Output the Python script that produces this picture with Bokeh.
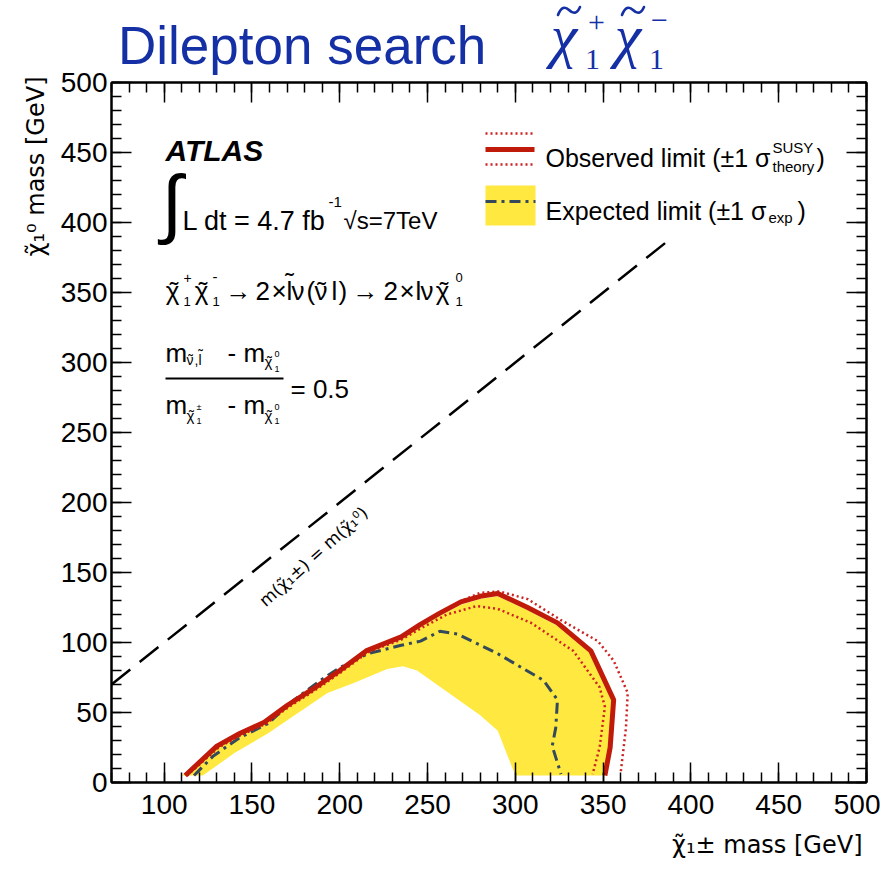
import math
from bokeh.plotting import figure
from bokeh.layouts import column
from bokeh.models import (Range1d, LinearAxis, SingleIntervalTicker, Label, Title, Div,
                          CustomJSTickFormatter)
from bokeh.embed import file_html
from bokeh.resources import INLINE

# ---------------- data ----------------
# observed limit (thick red)
obs_x = [112, 130, 143, 157, 170, 185, 200, 215, 235, 246, 257, 269, 280, 290, 307, 324, 343, 356, 354, 351]
obs_y = [5, 26, 35, 43, 55, 67, 80, 94, 104, 113, 121, 129, 133, 135, 125, 114, 94, 59, 25, 5]
# observed +1 sigma theory (outer dotted)
obs_up_x = [113, 131, 144, 158, 171, 186, 201, 216, 236, 247, 258, 270, 280, 291, 307, 326, 347, 356, 364, 363, 360]
obs_up_y = [5, 27, 36, 44, 56, 68, 81, 95, 105, 114, 122, 130, 135.5, 136.5, 131, 116, 101, 87, 64, 39, 7]
# observed -1 sigma theory (inner dotted)
obs_dn_x = [113, 131, 144, 158, 171, 186, 201, 216, 235, 246, 261, 278, 290, 309, 333, 348, 351, 348, 344]
obs_dn_y = [5, 25, 34, 42, 54, 66, 79, 93, 102, 110, 120, 126, 124, 114, 94, 68, 54, 25, 6]
# expected limit (dash-dot)
exp_x = [117, 128, 143, 159, 174, 189, 200, 216, 235, 246, 257, 267, 290, 316, 324, 323, 321, 326]
exp_y = [5, 19, 32, 42, 59, 73, 82, 92, 98, 101, 108, 106, 92, 73, 59, 39, 26, 6]
# expected +-1 sigma band (upper edge left->right, then lower edge right->left)
band_x = [110, 130, 143, 157, 170, 185, 200, 215, 235, 246, 257, 269, 280, 290, 307, 324, 343, 355, 353, 351,
          300, 290, 280, 244, 236, 227, 208, 193, 159, 140, 122]
band_y = [5, 26, 34, 42, 54, 66, 79, 92, 102, 111, 119, 127, 131, 133, 123, 112, 92, 58, 25, 5,
          5, 37, 48, 80, 83, 81, 71, 64, 35, 21, 5]
# kinematic boundary m(chargino) = m(neutralino)
diag_x = [70, 390]
diag_y = [70, 390]

x_ticks_interval = 50
y_ticks_interval = 50

# ---------------- geometry (page px) ----------------
X0, X1, Y0, Y1 = 70, 500, 0, 500
W = 880
DIV_H = 60                       # title strip
FIG_H = 810
FL, FT, FW, FH = 111, 82, 755, 700   # frame position on the page
SX = FW / (X1 - X0)
SY = FH / (Y1 - Y0)


def dx(px):
    return X0 + (px - FL) / SX


def dy(py):
    return Y0 + (FT + FH - py) / SY


SANS = "Liberation Sans"
SERIF = "Liberation Serif"
RED = "#C01B0A"
RED_D = "#CC2222"
SLATE = "#34495A"
YELLOW = "#FFE840"
BLUE = "#1530A4"

p = figure(width=W, height=FIG_H, x_range=Range1d(X0, X1), y_range=Range1d(Y0, Y1),
           output_backend="svg", toolbar_location=None,
           x_axis_type=None, y_axis_type=None,
           min_border_left=FL, min_border_top=FT - DIV_H,
           min_border_right=W - FL - FW, min_border_bottom=FIG_H - (FT - DIV_H) - FH,
           margin=0)
p.outline_line_color = "black"
p.outline_line_width = 2
p.background_fill_color = "white"
p.border_fill_color = None


def make_axis(interval, labels):
    ax = LinearAxis(ticker=SingleIntervalTicker(interval=interval, num_minor_ticks=5))
    ax.major_tick_in = 20
    ax.major_tick_out = 0
    ax.minor_tick_in = 10
    ax.minor_tick_out = 0
    ax.axis_line_width = 2
    ax.major_tick_line_width = 1.5
    ax.minor_tick_line_width = 1.5
    ax.major_label_text_font = SANS
    ax.major_label_text_font_size = "28px"
    ax.major_label_text_color = "black"
    if not labels:
        ax.formatter = CustomJSTickFormatter(code="return ''")
        ax.major_label_standoff = 0
        ax.major_label_text_font_size = "1px"
    return ax


xb = make_axis(x_ticks_interval, True)
xb.major_label_standoff = 12
yl = make_axis(y_ticks_interval, True)
yl.major_label_standoff = 4
p.add_layout(xb, "below")
p.add_layout(yl, "left")
p.add_layout(make_axis(x_ticks_interval, False), "above")
p.add_layout(make_axis(y_ticks_interval, False), "right")

# axis titles (in the side panels, so they are not clipped)
p.add_layout(Title(text="χ̃₁± mass [GeV]", align="right", offset=4, standoff=24,
                   text_font="DejaVu Sans", text_font_size="24px",
                   text_font_style="normal", text_color="black"), "below")
p.add_layout(Title(text="χ̃₁⁰ mass [GeV]", align="right", offset=-6, standoff=15,
                   text_font="DejaVu Sans", text_font_size="24px",
                   text_font_style="normal", text_color="black"), "left")

# ---------------- data glyphs ----------------
p.patch(band_x, band_y, fill_color=YELLOW, line_color=None)
p.line(exp_x, exp_y, line_color=SLATE, line_width=3, line_dash="11 5 3 5")
p.line(obs_up_x, obs_up_y, line_color=RED_D, line_width=2.5, line_dash="2 3")
p.line(obs_dn_x, obs_dn_y, line_color=RED_D, line_width=2.5, line_dash="2 3")
p.line(obs_x, obs_y, line_color=RED, line_width=5)
p.line(diag_x, diag_y, line_color="black", line_width=2.5, line_dash="24 12")

# ---------------- legend (drawn by hand) ----------------
p.line([dx(485), dx(534)], [dy(133), dy(133)], line_color=RED_D, line_width=2.5, line_dash="2 3")
p.line([dx(485), dx(534)], [dy(149), dy(149)], line_color=RED, line_width=5)
p.line([dx(485), dx(534)], [dy(164), dy(164)], line_color=RED_D, line_width=2.5, line_dash="2 3")
p.quad(left=dx(485), right=dx(535), top=dy(185), bottom=dy(225), fill_color=YELLOW, line_color=None)
p.line([dx(485), dx(535)], [dy(201), dy(201)], line_color=SLATE, line_width=3, line_dash="11 5 3 5")


def lab(px, py, text, size=25, font=SANS, style="normal", align="left",
        baseline="alphabetic", color="black", angle=0.0):
    p.add_layout(Label(x=dx(px), y=dy(py), text=text, text_font=font,
                       text_font_size=f"{size}px", text_font_style=style,
                       text_align=align, text_baseline=baseline,
                       text_color=color, angle=angle))


def chi(px, py, size):
    """chi with a tilde; px is the glyph centre, py the baseline"""
    lab(px, py, "χ", size, align="center")
    lab(px + 0.06 * size, py, "˜", size, align="center")


lab(545, 157, "Observed limit (±1 σ")
lab(772, 147, "SUSY", 15)
lab(772, 166, "theory", 15)
lab(816, 157, ")")
lab(545, 210, "Expected limit (±1 σ")
lab(768, 217, "exp", 15)
lab(797, 210, ")")

# ---------------- annotations ----------------
lab(165, 150, "ATLAS", 30, style="bold italic")
lab(161, 202, "∫", 76)
lab(182, 220, "L dt = 4.7 fb", 27)
lab(328, 201, "-1", 15)
lab(343, 220, "√s=7TeV", 24)

# decay chain
B3 = 290
chi(172, B3, 26)
lab(183, 277, "+", 14)
lab(183, 301, "1", 13)
chi(201, B3, 26)
lab(212, 276, "-", 15)
lab(212, 301, "1", 13)
lab(225, B3, "→", 26)
lab(255, B3, "2", 26)
lab(271, B3, "×", 26)
lab(286, B3, "l", 26)
lab(289, B3 - 9, "˜", 26, align="center")
lab(291, B3, "ν", 26)
lab(306, B3, "(", 26)
lab(314, B3, "ν", 26)
lab(321, B3, "˜", 26, align="center")
lab(331, B3, "l", 26)
lab(338, B3, ")", 26)
lab(352, B3, "→", 26)
lab(383, B3, "2", 26)
lab(399, B3, "×", 26)
lab(415, B3, "l", 26)
lab(420, B3, "ν", 26)
chi(442, B3, 26)
lab(455, 277, "0", 13)
lab(455, 301, "1", 13)

# fraction
lab(165, 352, "m", 26)
lab(186, 359, "ν", 14)
lab(190, 359, "˜", 14, align="center")
lab(194, 359, ",", 14)
lab(198, 359, "l", 14)
lab(200, 354, "˜", 14, align="center")
lab(227, 352, "- m", 26)
chi(268, 361, 15)
lab(274, 353, "0", 9)
lab(274, 368, "1", 9)
p.line([dx(165), dx(283)], [dy(378), dy(378)], line_color="black", line_width=2)
lab(290, 388, "= 0.5", 26)
lab(165, 404, "m", 26)
chi(190, 415, 15)
lab(196, 406, "±", 9)
lab(196, 420, "1", 9)
lab(227, 404, "- m", 26)
chi(268, 415, 15)
lab(274, 406, "0", 9)
lab(274, 420, "1", 9)

# diagonal label
lab(313, 556, "m(χ̃₁±) = m(χ̃₁⁰)", 17, font="DejaVu Sans", align="center",
    baseline="middle", angle=math.radians(42))


# ---------------- title strip (HTML) ----------------
LH = 0.7   # line-height factor, keeps the boxes inside the page


def span(left, baseline, text, size, font, asc, desc, italic=False, center=False):
    top = baseline - ((LH - asc - desc) / 2 + asc) * size
    style = (f"position:absolute;left:{left}px;top:{top:.1f}px;font-family:'{font}';"
             f"font-size:{size}px;line-height:{LH * size:.1f}px;white-space:nowrap;"
             f"font-style:{'italic' if italic else 'normal'};")
    if center:
        style += "transform:translateX(-50%);"
    return f'<span style="{style}">{text}</span>'


def tilde(left, top):
    # the wavy accent over a chi, drawn as a small path
    return (f'<svg style="position:absolute;left:{left}px;top:{top}px;" width="26" height="12">'
            f'<path d="M2,10 C5,2 9,1 13,5 C17,9 21,9 24,2" stroke="{BLUE}" '
            f'stroke-width="2.6" fill="none" stroke-linecap="round"/></svg>')


SA, SD = 0.905, 0.212      # Liberation Sans ascent/descent
RA, RD = 0.891, 0.216      # Liberation Serif ascent/descent
parts = [
    span(118, 64, "Dilepton search", 53, SANS, SA, SD),
    span(564, 56, "χ", 60, SERIF, RA, RD, italic=True, center=True),
    tilde(556, 5),
    span(588, 32, "+", 30, SERIF, RA, RD),
    span(585, 69, "1", 30, SERIF, RA, RD),
    span(628, 56, "χ", 60, SERIF, RA, RD, italic=True, center=True),
    tilde(620, 5),
    span(651, 30, "−", 30, SERIF, RA, RD),
    span(649, 69, "1", 30, SERIF, RA, RD),
]
title_html = (f'<div style="position:relative;width:{W}px;height:{DIV_H}px;'
              f'color:{BLUE};overflow:visible;margin:0;padding:0;">' + "".join(parts) + "</div>")
title_div = Div(text=title_html, width=W, height=DIV_H, margin=0,
                styles={"overflow": "visible", "position": "relative", "z-index": "10"})

layout = column(title_div, p, spacing=0, margin=0)
open("out.html", "w").write(file_html(layout, INLINE))
